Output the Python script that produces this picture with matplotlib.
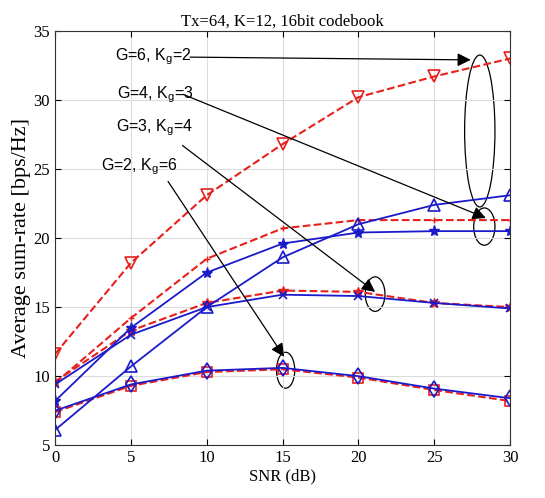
import numpy as np
from matplotlib import pyplot as plt
from matplotlib.patches import Ellipse

# ------------------------- data -------------------------------
snr = [0, 5, 10, 15, 20, 25, 30]

# red dashed curves
g6_red = [11.6, 18.2, 23.1, 26.8, 30.2, 31.7, 33.0]
g4_red = [9.5, 14.2, 18.5, 20.7, 21.3, 21.3, 21.3]
g3_red = [9.6, 13.3, 15.3, 16.2, 16.1, 15.3, 15.0]
g2_red = [7.4, 9.3, 10.3, 10.5, 9.9, 9.0, 8.2]

# blue solid curves
g6_blue = [6.1, 10.7, 15.0, 18.6, 21.0, 22.4, 23.1]
g4_blue = [8.2, 13.5, 17.5, 19.6, 20.4, 20.5, 20.5]
g3_blue = [9.4, 13.0, 15.0, 15.9, 15.8, 15.3, 14.9]
g2_blue = [7.5, 9.4, 10.4, 10.6, 10.0, 9.1, 8.4]

labels = ["G=6, K$_{\\rm g}$=2", "G=4, K$_{\\rm g}$=3",
          "G=3, K$_{\\rm g}$=4", "G=2, K$_{\\rm g}$=6"]
text_pos = [(3.95, 33.1), (4.1, 30.4), (4.0, 28.0), (3.0, 25.2)]
arrow_start = [(8.9, 33.1), (8.45, 30.4), (8.4, 26.7), (7.45, 24.1)]
arrow_tip = [(27.4, 32.9), (28.4, 21.45), (21.1, 16.1), (15.1, 11.4)]
# ellipse: centre x, centre y, width, height
ellipses = [(28.0, 27.75, 2.0, 11.0), (28.3, 20.83, 1.4, 2.7),
            (21.1, 15.94, 1.3, 2.5), (15.2, 10.43, 1.2, 2.6)]

# ------------------------- plot -------------------------------
plt.rcParams['font.family'] = ['Liberation Serif', 'DejaVu Serif']
plt.rcParams['mathtext.fontset'] = 'custom'
plt.rcParams['mathtext.rm'] = 'Liberation Sans'

fig = plt.figure(figsize=(5.45, 4.98), dpi=100)
ax = fig.add_axes([0.101, 0.106, 0.835, 0.832])

red = '#e8201c'
blue = '#1a1acc'

ax.plot(snr, g6_red, '--', color=red, lw=1.5, marker='v', ms=8, mfc='none', mew=1.2)
ax.plot(snr, g4_red, '--', color=red, lw=1.5, marker='+', ms=5, mew=1.0)
ax.plot(snr, g3_red, '--', color=red, lw=1.5, marker='*', ms=7, mew=1.0)
ax.plot(snr, g2_red, '--', color=red, lw=1.5, marker='s', ms=7, mfc='none', mew=1.2)

ax.plot(snr, g6_blue, '-', color=blue, lw=1.3, marker='^', ms=9, mfc='none', mew=1.2)
ax.plot(snr, g4_blue, '-', color=blue, lw=1.3, marker='*', ms=8, mew=1.0)
ax.plot(snr, g3_blue, '-', color=blue, lw=1.3, marker='x', ms=6, mew=1.2)
ax.plot(snr, g2_blue, '-', color=blue, lw=1.3, marker='d', ms=8, mfc='none', mew=1.2)

for lab, tp, st, tip, el in zip(labels, text_pos, arrow_start, arrow_tip, ellipses):
    ax.text(tp[0], tp[1], lab, family='Liberation Sans', fontsize=11.5,
            va='center', ha='left')
    ax.annotate('', xy=tip, xytext=st,
                arrowprops=dict(arrowstyle='-|>', color='black', lw=0.9,
                                mutation_scale=20, shrinkA=0, shrinkB=0))
    ax.add_patch(Ellipse((el[0], el[1]), el[2], el[3], fill=False,
                         edgecolor='black', lw=0.9))

ax.set_xlim(0, 30)
ax.set_ylim(5, 35)
ax.set_xticks(np.arange(0, 31, 5))
ax.set_yticks(np.arange(5, 36, 5))
ax.grid(True, color='#dcdcdc', lw=0.8)
ax.tick_params(direction='in', top=True, right=True, labelsize=12, length=4)
for s in ax.spines.values():
    s.set_color('#333333')

ax.set_title("Tx=64, K=12, 16bit codebook", fontsize=12, pad=4)
ax.set_xlabel("SNR (dB)", fontsize=12, labelpad=2)
ax.set_ylabel("Average sum-rate [bps/Hz]", fontsize=16, labelpad=2)

plt.savefig("out.png", dpi=100)
